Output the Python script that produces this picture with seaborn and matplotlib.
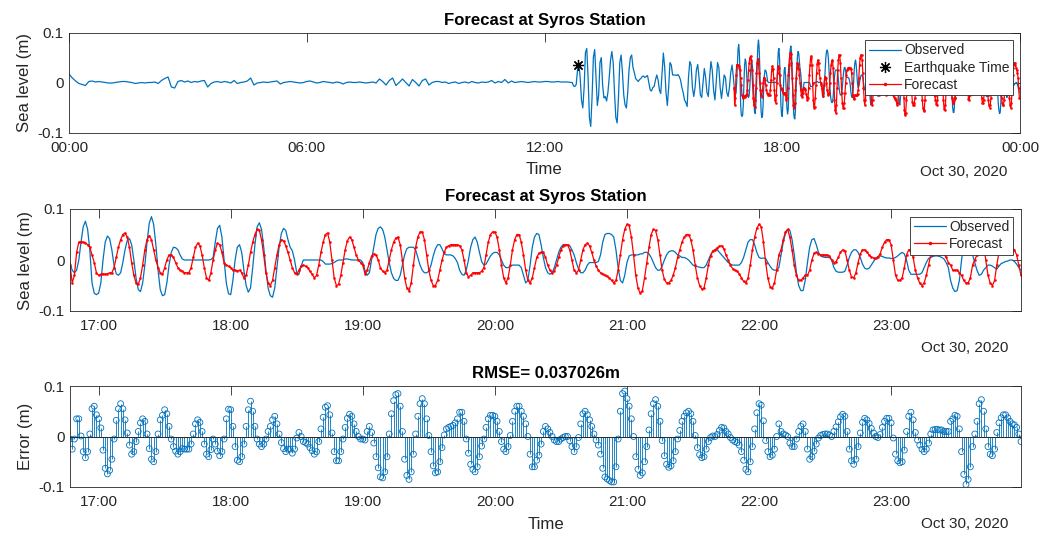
import numpy as np
import pandas as pd
import matplotlib
matplotlib.use("Agg")
import matplotlib.pyplot as plt
import matplotlib.dates as mdates
from matplotlib.lines import Line2D
import seaborn as sns

# ---------------- data ----------------
STATION = "Syros"
DATE_LABEL = "Oct 30, 2020"
RMSE_TEXT = "RMSE= 0.037026m"
EARLY_START = "2020-10-30 00:00"   # 5-minute samples
QUAKE_START = "2020-10-30 12:42"   # 2-minute samples
FC_START = "2020-10-30 16:47"      # 1-minute samples
QUAKE_TIME = "2020-10-30 12:51"
QUAKE_LEVEL = 0.035

obs_early = [
    0.017, 0.009, 0.003, -0.002, -0.004, -0.006, 0.002, 0.003, 0.001, 0.002,
    0.001, 0.0, -0.001, -0.001, 0.0, 0.001, 0.002, 0.002, 0.001, 0.0,
    -0.002, -0.001, 0.0, -0.001, 0.0, 0.0, 0.001, -0.002, 0.004, 0.008,
    0.011, -0.009, -0.011, 0.002, 0.004, 0.001, 0.003, 0.0, 0.002, 0.001,
    0.003, 0.004, -0.009, -0.002, 0.001, 0.002, 0.0, 0.002, 0.001, -0.001,
    0.004, -0.002, 0.0, 0.001, 0.003, 0.009, -0.005, -0.001, 0.0, 0.001,
    0.0, 0.001, 0.002, 0.003, -0.003, 0.0, 0.001, 0.002, 0.001, 0.0,
    -0.001, 0.0, 0.002, 0.003, 0.001, -0.001, 0.0, 0.002, 0.001, 0.0,
    -0.001, 0.001, 0.0, -0.003, 0.0, 0.001, 0.0, 0.0, 0.001, 0.0,
    -0.001, 0.0, 0.001, -0.001, 0.007, 0.002, -0.005, 0.004, 0.009, -0.006,
    0.0, 0.007, 0.0, -0.007, 0.006, 0.0, -0.007, 0.004, 0.007, -0.005,
    0.0, 0.002, 0.002, 0.0, 0.001, -0.002, 0.0, 0.001, -0.002, 0.0,
    0.001, -0.001, 0.002, 0.0, -0.001, 0.001, 0.0, 0.001, 0.004, -0.001,
    0.002, 0.0, 0.006, -0.001, 0.003, 0.0, 0.001, 0.002, 0.001, 0.0,
    0.001, 0.002, 0.001, 0.001, 0.002, 0.002, 0.001, 0.001, 0.002, 0.001,
    0.001, 0.001, 0.0,
]

obs_quake = [
    0.0, -0.007,
    -0.008, -0.004, 0.025, 0.04, 0.01, -0.035, -0.051, -0.01, 0.06, 0.068,
    0.01, -0.07, -0.088, -0.03, 0.05, 0.066, 0.01, -0.046, -0.025, 0.04,
    0.05, -0.005, -0.031, -0.028, -0.037, -0.02, 0.01, 0.045, 0.062, 0.04,
    -0.02, -0.07, -0.081, -0.03, 0.04, 0.055, 0.02, -0.025, -0.045, -0.051,
    -0.02, 0.025, 0.05, 0.055, 0.03, 0.02, 0.008, 0.005, 0.002, 0.006,
    0.008, 0.012, 0.013, 0.01, 0.012, 0.014, 0.0, -0.015, -0.017, -0.01,
    -0.008, 0.005, 0.015, 0.005, -0.015, -0.022, 0.02, 0.059, 0.03, -0.02,
    -0.046, -0.01, 0.04, 0.035, 0.015, 0.015, 0.015, 0.014, 0.016, 0.012,
    0.005, -0.01, -0.02, -0.035, -0.04, -0.048, 0.01, 0.042, 0.035, -0.01,
    -0.028, -0.01, 0.025, 0.036, 0.01, -0.025, -0.03, 0.0, 0.028, 0.01,
    -0.02, -0.028, 0.01, 0.042, 0.025, -0.015, -0.035, 0.0, 0.04, 0.03,
    -0.01, -0.032, -0.01, 0.015, 0.01, -0.02, -0.028, -0.01, 0.02, 0.035,
    0.01,
]

# observed sea level, 16:47 ... 23:59 (1-minute)
observed = [
    -0.005, -0.02, -0.025, -0.02, 0.0, 0.035, 0.065, 0.076, 0.06, 0.02, -0.045, -0.065, -0.068,
    -0.065, -0.045, 0.0, 0.035, 0.047, 0.042, 0.02, -0.01, -0.027, -0.03,
    -0.025, -0.005, 0.02, 0.038, 0.042, 0.03, 0.0, -0.035, -0.058, -0.062,
    -0.045, -0.01, 0.035, 0.072, 0.085, 0.07, 0.03, -0.02, -0.058, -0.07,
    -0.068, -0.045, -0.01, 0.015, 0.025, 0.024, 0.02, 0.01, 0.002, 0.0,
    0.0, 0.0, 0.0, 0.0, 0.0, 0.0, 0.0, 0.0, 0.0, 0.0,
    0.0, 0.001, 0.005, 0.035, 0.062, 0.068, 0.045, 0.0, -0.045, -0.066,
    -0.068, -0.04, 0.0, 0.025, 0.03, 0.015, -0.02, -0.05, -0.063, -0.055,
    -0.015, 0.03, 0.065, 0.073, 0.06, 0.025, -0.02, -0.055, -0.07, -0.073,
    -0.055, -0.015, 0.025, 0.052, 0.062, 0.058, 0.04, 0.025, 0.018, 0.0,
    -0.025, -0.028, -0.012, 0.0, 0.0, 0.0, 0.0, 0.0, 0.0, 0.0,
    0.0, 0.0, -0.003, -0.008, -0.008, -0.008, -0.007, -0.005, -0.002, 0.0,
    0.0, 0.0, 0.002, 0.002, 0.001, 0.0, 0.0, 0.0, 0.0, 0.0,
    -0.005, -0.02, -0.03, -0.025, 0.0, 0.025, 0.05, 0.062, 0.065, 0.06,
    0.045, 0.02, -0.005, -0.025, -0.036, -0.04, -0.04, -0.03, -0.01, 0.01,
    0.022, 0.025, 0.025, 0.025, 0.02, 0.005, -0.01, -0.02, -0.025, -0.025,
    -0.022, -0.01, 0.008, 0.022, 0.03, 0.03, 0.022, 0.012, 0.01, 0.01,
    0.01, 0.008, 0.003, -0.005, -0.02, -0.028, -0.03, -0.02, 0.0, 0.025,
    0.04, 0.045, 0.035, 0.015, -0.003, -0.01, -0.008, 0.0, 0.008, 0.013,
    0.015, 0.015, 0.01, 0.0, -0.01, -0.015, -0.015, -0.012, -0.01, -0.01,
    -0.01, -0.01, -0.015, -0.03, -0.045, -0.04, -0.01, 0.025, 0.045, 0.052,
    0.05, 0.03, 0.005, -0.015, -0.025, -0.028, -0.025, -0.015, 0.0, 0.015,
    0.025, 0.03, 0.03, 0.03, 0.028, 0.02, 0.01, -0.005, -0.018, -0.025,
    -0.025, -0.02, -0.01, -0.005, -0.005, -0.005, -0.005, -0.003, 0.01, 0.035,
    0.05, 0.052, 0.052, 0.05, 0.045, 0.02, -0.015, -0.04, -0.045, -0.03,
    -0.005, 0.008, 0.01, 0.01, 0.01, 0.01, 0.012, 0.012, 0.015, 0.015,
    0.012, 0.005, -0.005, -0.015, -0.02, -0.02, -0.012, 0.0, 0.01, 0.016,
    0.018, 0.018, 0.015, 0.01, 0.008, 0.005, 0.005, 0.003, 0.0, -0.005,
    -0.01, -0.012, -0.013, -0.014, -0.015, -0.015, -0.01, 0.0, 0.01, 0.017,
    0.02, 0.02, 0.015, 0.01, 0.005, 0.0, -0.005, -0.008, -0.01, -0.01,
    -0.01, -0.01, -0.005, 0.005, 0.02, 0.035, 0.04, 0.04, 0.03, 0.015,
    0.005, 0.003, 0.004, 0.003, -0.005, -0.012, -0.018, -0.02, -0.02, -0.015,
    0.01, 0.035, 0.052, 0.06, 0.058, 0.04, 0.01, -0.025, -0.05, -0.06,
    -0.06, -0.04, -0.005, 0.025, 0.04, 0.042, 0.03, 0.015, 0.008, 0.006,
    0.005, 0.005, 0.005, 0.0, -0.015, -0.022, -0.024, -0.024, -0.024, -0.022,
    -0.01, 0.005, 0.015, 0.02, 0.02, 0.015, 0.005, -0.008, -0.016, -0.018,
    -0.016, -0.01, -0.003, 0.003, 0.007, 0.008, 0.007, 0.005, 0.004, 0.004,
    0.003, 0.003, 0.005, 0.008, 0.012, 0.015, 0.012, 0.0, -0.02, -0.028,
    -0.028, -0.028, -0.028, -0.028, -0.025, -0.015, -0.005, 0.003, 0.005, 0.007,
    0.008, 0.008, 0.007, 0.005, 0.002, -0.005, -0.015, -0.04, -0.055, -0.062,
    -0.06, -0.04, 0.0, 0.035, 0.05, 0.04, 0.025, 0.01, -0.005, -0.02,
    -0.03, -0.028, -0.02, -0.015, -0.01, -0.01, -0.012, -0.015, -0.018, -0.012,
    -0.007, -0.005, -0.003, -0.002, 0.0, 0.0, -0.003, -0.008, -0.015, -0.02,
]

# forecast sea level, 16:47 ... 23:59 (1-minute)
forecast = [
    -0.01, -0.045, -0.03, 0.015, 0.035, 0.036, 0.035, 0.034, 0.03, 0.025, 0.01, -0.005, -0.025,
    -0.03, -0.028, -0.027, -0.028, -0.027, -0.025, -0.025, -0.015, 0.005, 0.025,
    0.04, 0.05, 0.053, 0.045, 0.025, -0.005, -0.03, -0.045, -0.048, -0.035,
    -0.01, 0.02, 0.04, 0.048, 0.04, 0.02, 0.0, -0.015, -0.025, -0.028,
    -0.015, 0.0, 0.01, 0.01, 0.005, -0.005, -0.015, -0.02, -0.022, -0.025,
    -0.025, -0.025, -0.015, 0.005, 0.025, 0.033, 0.028, 0.01, -0.015, -0.035,
    -0.04, -0.025, 0.0, 0.02, 0.033, 0.03, 0.015, -0.005, -0.01, -0.012,
    -0.015, -0.02, -0.02, -0.022, -0.02, -0.025, -0.035, -0.03, -0.01, 0.015,
    0.035, 0.05, 0.06, 0.058, 0.04, 0.01, -0.025, -0.045, -0.05, -0.04,
    -0.015, 0.01, 0.03, 0.04, 0.038, 0.028, 0.015, 0.0, -0.015, -0.025,
    -0.028, -0.02, -0.012, -0.01, -0.012, -0.015, -0.022, -0.028, -0.035, -0.03,
    -0.01, 0.015, 0.035, 0.05, 0.053, 0.035, 0.0, -0.035, -0.05, -0.048,
    -0.03, -0.005, 0.02, 0.038, 0.045, 0.04, 0.025, 0.01, 0.0, -0.005,
    -0.01, -0.027, -0.02, -0.005, 0.008, 0.012, 0.01, 0.0, -0.015, -0.022,
    -0.025, -0.02, 0.0, 0.02, 0.035, 0.043, 0.045, 0.03, 0.0, -0.035,
    -0.055, -0.06, -0.045, -0.01, 0.025, 0.045, 0.055, 0.055, 0.04, 0.01,
    -0.02, -0.04, -0.05, -0.05, -0.04, -0.02, 0.0, 0.015, 0.025, 0.028,
    0.03, 0.03, 0.03, 0.03, 0.028, 0.02, 0.0, -0.025, -0.033, -0.03,
    -0.025, -0.025, -0.025, -0.025, -0.022, -0.015, 0.01, 0.035, 0.05, 0.055,
    0.055, 0.045, 0.02, -0.01, -0.035, -0.045, -0.035, -0.01, 0.02, 0.04,
    0.05, 0.05, 0.035, 0.01, -0.02, -0.04, -0.045, -0.035, -0.015, 0.005,
    0.013, 0.015, 0.015, 0.005, -0.01, -0.02, -0.025, -0.022, -0.01, 0.005,
    0.02, 0.028, 0.03, 0.03, 0.02, 0.0, -0.02, -0.025, -0.02, 0.0,
    0.02, 0.03, 0.033, 0.028, 0.015, 0.0, -0.012, -0.02, -0.025, -0.028,
    -0.03, -0.032, -0.035, -0.04, -0.045, -0.04, -0.02, 0.01, 0.04, 0.06,
    0.07, 0.068, 0.045, 0.01, -0.03, -0.055, -0.065, -0.06, -0.035, -0.005,
    0.025, 0.05, 0.06, 0.058, 0.04, 0.01, -0.02, -0.038, -0.045, -0.045,
    -0.04, -0.03, -0.015, 0.005, 0.02, 0.035, 0.045, 0.05, 0.05, 0.04,
    0.02, -0.01, -0.035, -0.05, -0.057, -0.055, -0.035, -0.01, 0.008, 0.018,
    0.02, 0.024, 0.027, 0.028, 0.022, 0.01, 0.0, -0.01, -0.017, -0.02,
    -0.022, -0.027, -0.035, -0.042, -0.045, -0.035, -0.01, 0.02, 0.045, 0.062,
    0.07, 0.065, 0.035, -0.005, -0.035, -0.052, -0.055, -0.045, -0.02, 0.01,
    0.02, 0.04, 0.055, 0.06, 0.045, 0.02, -0.01, -0.03, -0.04, -0.04,
    -0.035, -0.03, -0.03, -0.02, 0.0, 0.013, 0.015, 0.012, 0.01, 0.01,
    0.01, 0.01, 0.008, 0.0, -0.005, -0.003, 0.005, 0.015, 0.02, 0.018,
    0.0, -0.02, -0.033, -0.035, -0.025, -0.005, 0.012, 0.02, 0.02, 0.015,
    0.01, 0.006, 0.004, 0.003, 0.005, 0.012, 0.025, 0.035, 0.04, 0.04,
    0.03, 0.0, -0.03, -0.04, -0.04, -0.035, -0.015, 0.01, 0.02, 0.02,
    0.005, -0.02, -0.035, -0.045, -0.05, -0.045, -0.03, -0.01, 0.01, 0.02,
    0.022, 0.022, 0.02, 0.018, 0.012, 0.005, -0.005, -0.01, -0.02, -0.02,
    -0.02, -0.025, -0.03, -0.04, -0.045, -0.045, -0.035, -0.01, 0.0, 0.01,
    0.035, 0.045, 0.03, 0.0, -0.03, -0.045, -0.05, -0.04, -0.01, 0.015,
    0.03, 0.038, 0.04, 0.035, 0.03, 0.025, 0.02, 0.01, -0.01, -0.03,
]

# ---------------- derived series ----------------
t_early = pd.date_range(EARLY_START, periods=len(obs_early), freq="5min")
t_quake = pd.date_range(QUAKE_START, periods=len(obs_quake), freq="2min")
t_fc = pd.date_range(FC_START, periods=len(observed), freq="1min")
obs = np.array(observed)
fc = np.array(forecast)
err = fc - obs

df_obs_all = pd.DataFrame({
    "time": list(t_early) + list(t_quake) + list(t_fc),
    "level": list(obs_early) + list(obs_quake) + list(observed),
})
df_fc = pd.DataFrame({"time": t_fc, "obs": obs, "fc": fc, "err": err})

# ---------------- style ----------------
sns.set_style("white")
plt.rcParams["font.family"] = ["Liberation Sans", "DejaVu Sans"]
plt.rcParams["axes.unicode_minus"] = False

BLUE = "#0072BD"
RED = "#FF0000"
AXC = "#262626"
FS = 11
LFS = 12.1

W, H = 1055, 536
fig = plt.figure(figsize=(W / 100, H / 100), dpi=100)
fig.patch.set_facecolor("white")


def box(l, t, r, b):
    return [l / W, 1 - b / H, (r - l) / W, (b - t) / H]


ax1 = fig.add_axes(box(69, 32.5, 1020, 132.5))
ax2 = fig.add_axes(box(70, 209, 1021, 311))
ax3 = fig.add_axes(box(70, 386, 1021, 487))

day0 = pd.Timestamp(EARLY_START)


def style(ax, xlim, hours, ylabel, xlabel, title, date_dy):
    ax.set_xlim(xlim)
    ax.set_ylim(-0.1, 0.1)
    ax.set_yticks([-0.1, 0, 0.1])
    ax.set_yticklabels(["-0.1", "0", "0.1"])
    ax.xaxis.set_major_locator(mdates.HourLocator(byhour=hours))
    ax.xaxis.set_major_formatter(mdates.DateFormatter("%H:%M"))
    ax.tick_params(axis="both", which="major", direction="in", length=6.8, width=0.6,
                   top=True, right=True, colors=AXC, labelsize=FS)
    ax.tick_params(axis="x", pad=6)
    ax.tick_params(axis="y", pad=4)
    for s in ax.spines.values():
        s.set_color(AXC)
        s.set_linewidth(0.6)
        s.set_visible(True)
    ax.set_ylabel(ylabel, fontsize=LFS, color=AXC)
    ax.yaxis.set_label_coords(-0.0384, 0.5)
    ax.set_xlabel(xlabel, fontsize=LFS, color=AXC)
    ax.xaxis.set_label_coords(0.5, -0.295)
    ax.set_title(title, fontsize=LFS, fontweight="bold", color="black", pad=5.5)
    ax.annotate(DATE_LABEL, xy=(0.987, 0), xycoords="axes fraction",
                xytext=(0, -date_dy / 1.389), textcoords="offset points",
                ha="right", va="center", fontsize=FS, color=AXC)


# ---- panel 1 ----
sns.lineplot(data=df_obs_all, x="time", y="level", ax=ax1, color=BLUE, lw=0.9,
             estimator=None, legend=False)
sns.lineplot(data=df_fc, x="time", y="fc", ax=ax1, color=RED, lw=0.9, marker=".",
             markersize=3, mec=RED, mew=0.3, estimator=None, legend=False)
ax1.plot([pd.Timestamp(QUAKE_TIME)], [QUAKE_LEVEL], ls="none", marker=(8, 2, 0),
         color="black", ms=8, mew=0.9)
style(ax1, (day0, day0 + pd.Timedelta(days=1)), [0, 6, 12, 18], "Sea level (m)", "Time",
      f"Forecast at {STATION} Station", 39.5)

h1 = [Line2D([], [], color=BLUE, lw=0.9),
      Line2D([], [], ls="none", marker=(8, 2, 0), color="black", ms=8, mew=0.9),
      Line2D([], [], color=RED, lw=0.9, marker=".", ms=3)]
leg1 = ax1.legend(h1, ["Observed", "Earthquake Time", "Forecast"], loc="upper right",
                  bbox_to_anchor=(1 - 7 / 951, 1 - 7.5 / 100), borderaxespad=0,
                  frameon=True, fancybox=False, edgecolor=AXC, framealpha=1,
                  fontsize=10, handlelength=2.3, handletextpad=0.25,
                  labelspacing=0.22, borderpad=0.25)
leg1.get_frame().set_linewidth(0.6)

# ---- panel 2 ----
sns.lineplot(data=df_fc, x="time", y="obs", ax=ax2, color=BLUE, lw=0.9,
             estimator=None, legend=False)
sns.lineplot(data=df_fc, x="time", y="fc", ax=ax2, color=RED, lw=0.9, marker=".",
             markersize=3, mec=RED, mew=0.3, estimator=None, legend=False)
style(ax2, (t_fc[0], t_fc[-1]), list(range(17, 24)), "Sea level (m)", "",
      f"Forecast at {STATION} Station", 37)
h2 = [Line2D([], [], color=BLUE, lw=0.9),
      Line2D([], [], color=RED, lw=0.9, marker=".", ms=3)]
leg2 = ax2.legend(h2, ["Observed", "Forecast"], loc="upper right",
                  bbox_to_anchor=(1 - 8 / 951, 1 - 7.7 / 102), borderaxespad=0,
                  frameon=True, fancybox=False, edgecolor=AXC, framealpha=1,
                  fontsize=10, handlelength=2.3, handletextpad=0.25,
                  labelspacing=0.22, borderpad=0.25)
leg2.get_frame().set_linewidth(0.6)

# ---- panel 3 (stem) ----
ax3.vlines(df_fc["time"], 0, df_fc["err"], color=BLUE, lw=0.6)
ax3.axhline(0, color=AXC, lw=0.7)
sns.scatterplot(data=df_fc, x="time", y="err", ax=ax3, marker="o", s=18,
                facecolor="none", edgecolor=BLUE, linewidth=0.6, legend=False)
style(ax3, (t_fc[0], t_fc[-1]), list(range(17, 24)), "Error (m)", "Time", RMSE_TEXT, 37)

fig.savefig("out.png", dpi=100, facecolor="white")
